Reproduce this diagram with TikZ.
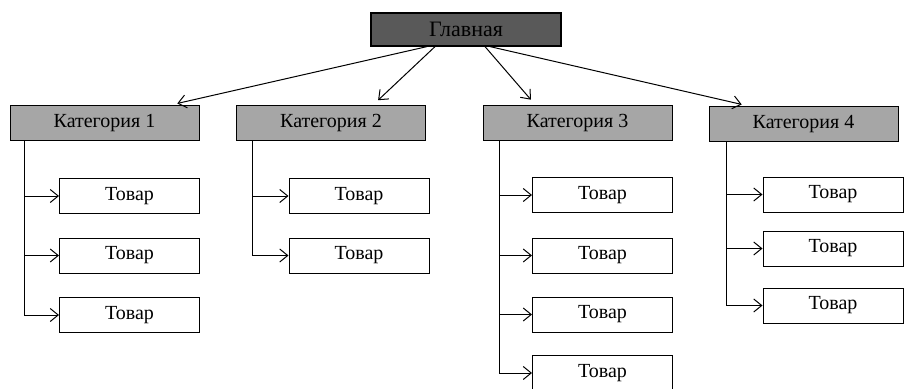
\documentclass[tikz,border=0pt]{standalone}
\usepackage{fontspec}
\setmainfont{Liberation Serif}
\usetikzlibrary{arrows.meta,calc}

\tikzset{
  glav/.style={draw, line width=1.2pt, fill=black!65, minimum width=190pt, minimum height=33pt, inner sep=0pt, font=\fontsize{22}{25}\selectfont},
  kat/.style={draw, line width=1pt, fill=black!35, minimum width=189pt, minimum height=35pt, inner sep=0pt, font=\fontsize{20}{23}\selectfont},
  tovar/.style={draw, line width=1pt, fill=white, minimum width=140pt, minimum height=35pt, inner sep=0pt, font=\fontsize{20}{23}\selectfont},
  link/.style={-{Straight Barb[length=8pt,width=13pt]}, line width=1pt}
}

\begin{document}
\begin{tikzpicture}[x=1pt,y=-1pt]
  \useasboundingbox (0,0) rectangle (904,388);
  \node[glav] (m) at (466,29.5) {Главная};
  \node[kat] (k1) at (104.5,123) {Категория 1};
  \node[kat] (k2) at (331,123) {Категория 2};
  \node[kat] (k3) at (577.5,123) {Категория 3};
  \node[kat] (k4) at (803.5,124) {Категория 4};
  % tovary
  \node[tovar] (t1a) at (129.5,196) {Товар};
  \node[tovar] (t1b) at (129.5,255.5) {Товар};
  \node[tovar] (t1c) at (129.5,315) {Товар};
  \node[tovar] (t2a) at (359,196) {Товар};
  \node[tovar] (t2b) at (359,255.5) {Товар};
  \node[tovar] (t3a) at (602.5,195) {Товар};
  \node[tovar] (t3b) at (602.5,255.5) {Товар};
  \node[tovar] (t3c) at (602.5,314.5) {Товар};
  \node[tovar] (t3d) at (602.5,373) {Товар};
  \node[tovar] (t4a) at (833,194.5) {Товар};
  \node[tovar] (t4b) at (833,248.5) {Товар};
  \node[tovar] (t4c) at (833,305.5) {Товар};

  \path[link, shorten >=7pt]
  ($(m.south)+(-39,0)$) edge ($(k1.north)+(66,0)$)
  ($(m.south)+(-31,0)$) edge ($(k2.north)+(42,0)$)
  ($(m.south)+(19,0)$) edge ($(k3.north)+(-42,0)$)
  ($(m.south)+(24,0)$) edge ($(k4.north)+(-55,0)$)
  ;
  \foreach \t in {t1a,t1b,t1c}
    \draw[link] ($(k1.south west)+(15,0)$) |- (\t);
  \foreach \t in {t2a,t2b}
    \draw[link] ($(k2.south west)+(16,0)$) |- (\t);
  \foreach \t in {t3a,t3b,t3c,t3d}
    \draw[link] ($(k3.south west)+(17,0)$) |- (\t);
  \foreach \t in {t4a,t4b,t4c}
    \draw[link] ($(k4.south west)+(18,0)$) |- (\t);
\end{tikzpicture}
\end{document}
